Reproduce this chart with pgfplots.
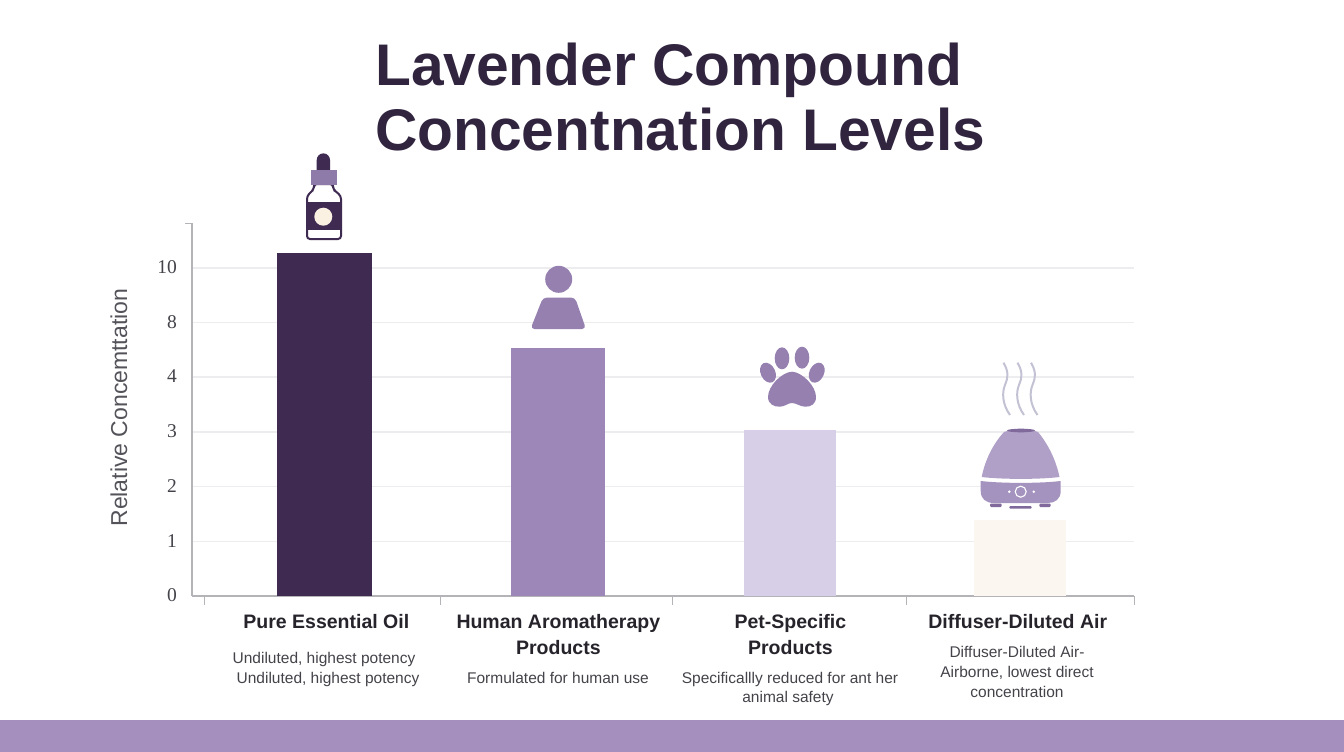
\documentclass[border=0pt]{standalone}
\usepackage{fontspec}
\setmainfont{Liberation Sans}
\newfontfamily\serifnum{Liberation Serif}
\usepackage{pgfplots}
\pgfplotsset{compat=1.18}
\definecolor{titlec}{HTML}{30243F}
\definecolor{oilc}{HTML}{3F2A52}
\definecolor{humanc}{HTML}{9D87B8}
\definecolor{petc}{HTML}{D6CFE7}
\definecolor{airc}{HTML}{FBF7F0}
\definecolor{bandc}{HTML}{A58FBE}
\definecolor{iconc}{HTML}{9580B0}
\definecolor{capc}{HTML}{8F7BAA}
\definecolor{steamc}{HTML}{C2C2D4}
\definecolor{domec}{HTML}{B0A0C8}
\definecolor{basec}{HTML}{A593BF}
\definecolor{feetc}{HTML}{7F6A9B}
\definecolor{gridc}{HTML}{EDEDF0}
\definecolor{axisc}{HTML}{B4B4B8}
\definecolor{creamc}{HTML}{FBF1E3}
\definecolor{catc}{HTML}{26232B}
\definecolor{descc}{HTML}{45434A}
\definecolor{ylabc}{HTML}{55535A}
\begin{document}
\begin{tikzpicture}
\path[use as bounding box,fill=white] (0pt,0pt) rectangle (1344pt,-752pt);
\fill[bandc] (0pt,-720pt) rectangle (1344pt,-752pt);
\begin{axis}[
  at={(192pt,-596pt)}, anchor=south west,
  scale only axis, width=942pt, height=373pt,
  xmin=-0.569, xmax=3.491,
  y coord trafo/.code={\pgfmathparse{#1<=4 ? #1 : (#1<=8 ? 4+(#1-4)/4 : 5+(#1-8)/2)}\pgfmathresult},
  ymin=0, ymax=11.64,
  axis x line*=bottom, axis y line*=left,
  axis line style={axisc,line width=1.2pt,-},
  ytick={0,1,2,3,4,8,10},
  yticklabels={0,1,2,3,4,8,10},
  yticklabel style={font=\fontsize{19.5}{19.5}\selectfont\serifnum,text=descc,inner sep=0pt,xshift=-15pt,yshift=0.7pt},
  ymajorgrids, grid style={gridc,line width=1.6pt},
  major tick length=0pt,
  xtick={0.01,1.01,2.01,2.99},
  xticklabels={Pure Essential Oil,Human Aromatherapy\\Products,Pet-Specific\\Products,Diffuser-Diluted Air},
  xticklabel style={font=\fontsize{19.5}{26}\selectfont\bfseries,text=catc,align=center,anchor=north,inner sep=0pt,yshift=-18pt},
  minor xtick={-0.513,0.504,1.504,2.509,3.491},
  minor tick length=9pt,
  tick align=outside,
  minor x tick style={axisc,line width=1pt},
  ylabel={Relative Concemttation},
  every axis y label/.style={at={(axis description cs:-0.0775,0.505)},rotate=90,anchor=center,font=\fontsize{23}{23}\selectfont,text=ylabc},
  clip=false,
]
\addplot[ybar,bar shift=0pt,bar width=95pt,fill=oilc,draw=none] coordinates {(0,10.54)};
\addplot[ybar,bar shift=0pt,bar width=94pt,fill=humanc,draw=none] coordinates {(1.009,6.12)};
\addplot[ybar,bar shift=0pt,bar width=92pt,fill=petc,draw=none] coordinates {(2.009,3.03)};
\addplot[ybar,bar shift=0pt,bar width=92pt,fill=airc,draw=none] coordinates {(3,1.39)};
\end{axis}
\begin{scope}[x=1pt,y=-1pt]
\draw[axisc,line width=1pt] (185,223)--(192,223);
% title
\node[anchor=base west,inner sep=0pt,text=titlec,font=\fontsize{58.7}{60}\selectfont\bfseries] at (375,85.5) {Lavender Compound};
\node[anchor=base west,inner sep=0pt,text=titlec,font=\fontsize{58.7}{60}\selectfont\bfseries] at (375,150.5) {Concentnation Levels};
% descriptions
\begin{scope}[every node/.style={inner sep=0pt,anchor=base,text=descc,font=\fontsize{15.5}{15.5}\selectfont}]
\node at (324,663) {Undiluted, highest potency};
\node at (328,683) {Undiluted, highest potency};
\node at (558,683) {Formulated for human use};
\node at (790,683) {Specificallly reduced for ant her};
\node at (788,702) {animal safety};
\node at (1017,657) {Diffuser-Diluted Air-};
\node at (1017,677) {Airborne, lowest direct};
\node at (1017,697) {concentration};
\end{scope}
% bottle
\fill[oilc] (316.7,170) -- (316.7,160) arc[start angle=180,end angle=360,radius=6.65] -- (330,170) -- cycle;
\draw[oilc,line width=2pt,fill=white,rounded corners=3pt] (314,184)--(314,189)--(307,196)--(307,239)--(341,239)--(341,196)--(333,189)--(333,184)--cycle;
\fill[oilc] (307,201.7) rectangle (341,230);
\fill[capc] (310.7,170) rectangle (336.7,185);
\fill[creamc] (323.3,216.7) circle[radius=9];
% person
\fill[iconc] (558.7,279.3) circle[radius=13.5];
\fill[iconc,rounded corners=4pt] (543,297.5)--(575,297.5)--(586,329)--(530.5,329)--cycle;
% paw
\fill[iconc] (782,358.3) ellipse[x radius=7.3,y radius=11];
\fill[iconc] (802,357.7) ellipse[x radius=7.3,y radius=11];
\fill[iconc,rotate around={25:(768,372.7)}] (768,372.7) ellipse[x radius=7.3,y radius=10.5];
\fill[iconc,rotate around={-25:(816.7,372.7)}] (816.7,372.7) ellipse[x radius=7.3,y radius=10.5];
\fill[iconc] (792,371.7) .. controls (782,372) and (768,386) .. (768,397)
  .. controls (768,404) and (774,407) .. (780,406.7)
  .. controls (785,406.5) and (788,403) .. (792,403)
  .. controls (796,403) and (800,406.5) .. (805,406.7)
  .. controls (811,407) and (816,404) .. (816,397)
  .. controls (816,386) and (802,372) .. (792,371.7) -- cycle;
% diffuser
\foreach \sx in {1005,1019,1032.5}{
\draw[steamc,line width=2pt] (\sx-1.5,362.7) .. controls (\sx+4,372) and (\sx+3,378) .. (\sx,385)
  .. controls (\sx-3,392) and (\sx-3,404) .. (\sx+5,415);
}
\fill[domec] (1004,432) .. controls (1010,429) and (1032,429) .. (1038,432)
  .. controls (1048,444) and (1056,460) .. (1059.5,477)
  .. controls (1040,479.5) and (1002,479.5) .. (981.7,477)
  .. controls (985,460) and (993,444) .. (1004,432) -- cycle;
\fill[feetc] (1021,430.5) ellipse[x radius=14,y radius=1.8];
\fill[basec] (980.7,481) .. controls (1002,483.5) and (1040,483.5) .. (1060.7,481)
  -- (1060.7,491) .. controls (1060.7,499) and (1055,503) .. (1048,503)
  -- (994,503) .. controls (986,503) and (980.7,499) .. (980.7,491) -- cycle;
\draw[white,line width=1.1pt] (1020.7,491.7) circle[radius=5.5];
\fill[white] (1009.3,491.7) circle[radius=1.4];
\fill[white] (1033.7,491.7) circle[radius=1.4];
\fill[feetc,rounded corners=1pt] (990,503.7) rectangle (1001.7,507);
\fill[feetc,rounded corners=1pt] (1009.3,506) rectangle (1031.7,508.6);
\fill[feetc,rounded corners=1pt] (1039.3,503.7) rectangle (1050.7,507);
\end{scope}
\end{tikzpicture}
\end{document}
